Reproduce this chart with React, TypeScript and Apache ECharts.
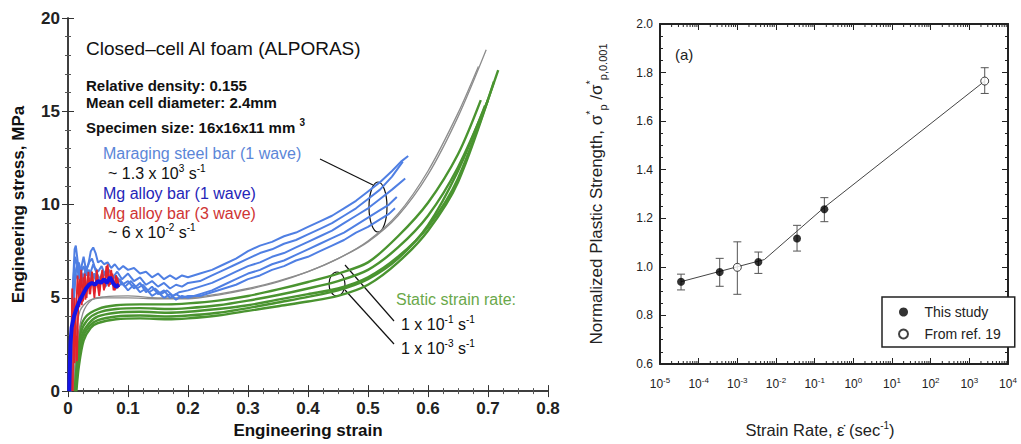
import React, { useEffect, useRef } from "react";
import * as echarts from "echarts";

type Pt = [number, number];

// ---------- Left chart: stress-strain curves (strain, MPa) ----------
const maraging1: Pt[] = [[0.002,0],[0.005,2.5],[0.008,5.5],[0.011,7.6],[0.013,7.8],[0.016,7.0],[0.019,6.2],[0.022,6.6],[0.026,7.2],[0.03,6.5],[0.034,6.8],[0.038,7.5],[0.042,7.7],[0.046,7.4],[0.05,6.9],[0.055,7.0],[0.06,6.8],[0.066,6.9],[0.072,6.6],[0.078,6.8],[0.085,6.5],[0.092,6.7],[0.1,6.5],[0.11,6.6],[0.12,6.3],[0.13,6.4],[0.14,6.1],[0.15,6.3],[0.16,6.0],[0.17,6.2],[0.18,6.0],[0.19,6.2],[0.2,6.1],[0.22,6.3],[0.24,6.5],[0.26,6.8],[0.28,7.1],[0.3,7.5],[0.32,7.8],[0.34,8.0],[0.36,8.3],[0.38,8.5],[0.4,8.8],[0.42,9.1],[0.44,9.4],[0.46,9.8],[0.48,10.2],[0.5,10.7],[0.52,11.2],[0.54,11.8],[0.555,12.3],[0.567,12.6]];
const maraging2: Pt[] = [[0.003,0],[0.006,3],[0.009,6],[0.012,7.2],[0.015,6.8],[0.018,6.0],[0.022,6.3],[0.026,5.8],[0.03,6.4],[0.035,6.9],[0.04,7.1],[0.045,6.6],[0.05,6.4],[0.056,6.7],[0.062,6.2],[0.068,6.5],[0.075,6.1],[0.082,6.4],[0.09,6.0],[0.1,6.3],[0.11,5.9],[0.12,6.1],[0.13,5.7],[0.14,5.9],[0.15,5.6],[0.16,5.8],[0.17,5.5],[0.18,5.7],[0.19,5.6],[0.2,5.8],[0.22,5.9],[0.24,6.2],[0.26,6.5],[0.28,6.8],[0.3,7.1],[0.32,7.4],[0.34,7.6],[0.36,7.9],[0.38,8.1],[0.4,8.4],[0.42,8.7],[0.44,9.0],[0.46,9.4],[0.48,9.8],[0.5,10.3],[0.52,10.8],[0.54,11.5],[0.558,12.3]];
const maraging3: Pt[] = [[0.004,0],[0.007,3.5],[0.01,5.8],[0.014,6.6],[0.018,6.9],[0.022,6.4],[0.026,6.7],[0.03,6.2],[0.035,6.5],[0.04,6.0],[0.045,6.3],[0.05,5.9],[0.056,6.2],[0.062,5.8],[0.07,6.1],[0.078,5.7],[0.086,6.0],[0.095,5.6],[0.105,5.9],[0.115,5.5],[0.125,5.7],[0.135,5.3],[0.145,5.5],[0.155,5.2],[0.165,5.4],[0.175,5.1],[0.185,5.3],[0.2,5.4],[0.22,5.6],[0.24,5.8],[0.26,6.1],[0.28,6.4],[0.3,6.7],[0.32,6.9],[0.34,7.2],[0.36,7.4],[0.38,7.7],[0.4,8.0],[0.42,8.3],[0.44,8.6],[0.46,9.0],[0.48,9.4],[0.5,9.8],[0.52,10.3],[0.54,10.8],[0.562,11.4]];
const maraging4: Pt[] = [[0.004,0],[0.008,4],[0.012,6.3],[0.016,6.0],[0.02,6.6],[0.025,6.1],[0.03,6.5],[0.036,5.9],[0.042,6.3],[0.048,5.8],[0.055,6.1],[0.062,5.6],[0.07,5.9],[0.08,5.5],[0.09,5.8],[0.1,5.4],[0.11,5.7],[0.12,5.3],[0.13,5.5],[0.14,5.1],[0.15,5.3],[0.16,5.0],[0.17,5.2],[0.18,4.9],[0.19,5.1],[0.2,5.0],[0.22,5.2],[0.24,5.4],[0.26,5.7],[0.28,6.0],[0.3,6.3],[0.32,6.5],[0.34,6.8],[0.36,7.0],[0.38,7.3],[0.4,7.6],[0.42,7.9],[0.44,8.2],[0.46,8.5],[0.48,8.9],[0.5,9.3],[0.52,9.7],[0.535,10.0],[0.548,10.4]];
const maraging5: Pt[] = [[0.005,0],[0.009,4.5],[0.013,6.4],[0.017,6.8],[0.021,6.2],[0.025,6.0],[0.03,6.6],[0.036,6.2],[0.042,6.8],[0.048,6.3],[0.055,5.9],[0.062,6.4],[0.07,5.8],[0.08,6.2],[0.09,5.7],[0.1,5.9],[0.11,5.5],[0.12,5.8],[0.13,5.3],[0.14,5.6],[0.15,5.2],[0.16,5.4],[0.17,5.0],[0.18,5.2],[0.19,5.0],[0.2,5.1],[0.22,5.1],[0.24,5.3],[0.26,5.5],[0.28,5.7],[0.3,6.0],[0.32,6.2],[0.34,6.5],[0.36,6.7],[0.38,7.0],[0.4,7.2],[0.42,7.5],[0.44,7.8],[0.46,8.1],[0.48,8.5],[0.5,8.8],[0.52,9.2],[0.535,9.5],[0.545,9.8]];
const mgThreeWave1: Pt[] = [[0.005,0],[0.006,3],[0.007,5.5],[0.009,3.5],[0.011,1.5],[0.013,4],[0.016,6.2],[0.019,4.5],[0.022,6.5],[0.025,4.8],[0.028,6.3],[0.031,5.0],[0.034,6.4],[0.037,5.2],[0.04,6.2],[0.044,5.0],[0.048,6.5],[0.052,5.3],[0.056,6.3],[0.06,5.4],[0.064,6.7],[0.068,5.6],[0.072,6.5],[0.076,5.4],[0.08,6.2],[0.083,5.5]];
const mgThreeWave2: Pt[] = [[0.008,0],[0.009,2.5],[0.011,5.0],[0.013,2.8],[0.015,1.6],[0.017,4.5],[0.02,6.0],[0.023,4.6],[0.026,6.1],[0.029,4.9],[0.033,6.2],[0.036,5.2],[0.04,6.4],[0.044,5.3],[0.048,6.0],[0.052,5.1],[0.057,6.5],[0.061,5.5],[0.066,6.8],[0.07,5.7],[0.074,6.3],[0.078,5.4],[0.082,6.1],[0.085,5.6]];
const mgOneWave: Pt[] = [[0.002,0],[0.004,2.5],[0.006,3.4],[0.01,4.0],[0.015,4.5],[0.02,4.9],[0.025,5.2],[0.03,5.5],[0.035,5.7],[0.04,5.8],[0.045,5.7],[0.05,5.9],[0.055,5.8],[0.06,6.0],[0.065,5.8],[0.07,6.1],[0.075,5.8],[0.08,5.6],[0.085,5.7]];
const staticFast1: Pt[] = [[0.008,0],[0.015,2.5],[0.025,4.2],[0.04,4.9],[0.06,5.05],[0.1,5.1],[0.15,5.0],[0.2,5.0],[0.25,5.2],[0.3,5.5],[0.35,5.9],[0.4,6.4],[0.45,7.1],[0.5,8.0],[0.55,9.4],[0.6,11.6],[0.65,14.7],[0.697,18.3]];
const staticFast2: Pt[] = [[0.006,0],[0.012,2.8],[0.02,4.3],[0.035,4.85],[0.06,5.0],[0.1,5.0],[0.15,4.95],[0.2,4.95],[0.25,5.15],[0.3,5.45],[0.35,5.85],[0.4,6.4],[0.45,7.1],[0.5,8.05],[0.55,9.5],[0.6,11.8],[0.65,14.9],[0.684,17.4]];
const staticSlow1: Pt[] = [[0.01,0],[0.014,1.8],[0.02,3.3],[0.03,4.0],[0.05,4.4],[0.08,4.6],[0.12,4.65],[0.165,4.65],[0.2,4.7],[0.25,4.85],[0.3,5.1],[0.35,5.45],[0.4,5.85],[0.45,6.3],[0.5,6.9],[0.55,8.3],[0.6,10.1],[0.65,12.7],[0.688,15.6]];
const staticSlow2: Pt[] = [[0.011,0],[0.015,1.6],[0.021,3.1],[0.032,3.8],[0.05,4.2],[0.08,4.4],[0.12,4.45],[0.165,4.4],[0.2,4.45],[0.25,4.6],[0.3,4.85],[0.35,5.15],[0.4,5.5],[0.45,5.9],[0.5,6.5],[0.55,7.7],[0.6,9.4],[0.65,12.0],[0.7,15.6]];
const staticSlow3: Pt[] = [[0.012,0],[0.016,1.5],[0.022,2.9],[0.034,3.6],[0.05,4.0],[0.08,4.2],[0.12,4.25],[0.165,4.2],[0.2,4.25],[0.25,4.4],[0.3,4.6],[0.35,4.9],[0.4,5.2],[0.45,5.5],[0.5,6.1],[0.55,7.2],[0.6,8.8],[0.65,11.4],[0.717,17.2]];
const staticSlow4: Pt[] = [[0.013,0],[0.017,1.4],[0.024,2.8],[0.036,3.5],[0.05,3.8],[0.08,4.0],[0.12,4.05],[0.165,4.0],[0.2,4.05],[0.25,4.2],[0.3,4.45],[0.35,4.75],[0.4,5.05],[0.45,5.4],[0.5,6.0],[0.55,7.1],[0.6,8.9],[0.65,11.8],[0.695,15.3]];
const staticSlow5: Pt[] = [[0.014,0],[0.018,1.3],[0.026,2.7],[0.038,3.4],[0.05,3.65],[0.08,3.85],[0.12,3.9],[0.165,3.85],[0.2,3.9],[0.25,4.05],[0.3,4.3],[0.35,4.55],[0.4,4.8],[0.45,5.1],[0.5,5.7],[0.55,6.9],[0.6,8.6],[0.65,11.2],[0.71,16.6]];

const strainTicks = { min: 0, max: 0.8, interval: 0.1 };
const stressTicks = { min: 0, max: 20, interval: 5 };

// ---------- Right chart: normalized strength vs strain rate ----------
const rateThisStudy = [3.5e-5, 3.5e-4, 3.5e-3, 3.5e-2, 0.178];
const strengthThisStudy = [0.939, 0.979, 1.02, 1.117, 1.237];
const errLowThisStudy = [0.905, 0.92, 0.973, 1.065, 1.186];
const errHighThisStudy = [0.97, 1.035, 1.061, 1.171, 1.285];
const rateRef = [1e-3, 2500];
const strengthRef = [0.998, 1.765];
const errLowRef = [0.887, 1.714];
const errHighRef = [1.103, 1.82];
const fitRate = [3.5e-5, 5e-3, 0.178, 2500];
const fitStrength = [0.939, 1.03, 1.245, 1.765];
const rateDecades = [-5, -4, -3, -2, -1, 0, 1, 2, 3, 4];
const minorMultipliers = [2, 3, 4, 5, 6, 7, 8, 9];

const FONT = "Liberation Sans, Arial, Helvetica, sans-serif";

export default function App() {
  const ref = useRef<HTMLDivElement>(null);
  useEffect(() => {
    if (!ref.current) return;
    const chart = echarts.init(ref.current, undefined, { renderer: "svg" });

    const lineSeries = (name: string, data: Pt[], color: string, width: number, smooth = false) => ({
      type: "line", name, data, xAxisIndex: 0, yAxisIndex: 0, showSymbol: false, symbol: "none",
      smooth: smooth ? 0.3 : false,
      lineStyle: { color, width }, z: 3, silent: true,
    });

    const minorTickData: number[] = [];
    rateDecades.slice(0, -1).forEach((d) => minorMultipliers.forEach((m) => minorTickData.push(m * Math.pow(10, d))));

    const errData = [
      ...rateThisStudy.map((r, i) => [r, errLowThisStudy[i], errHighThisStudy[i]]),
      ...rateRef.map((r, i) => [r, errLowRef[i], errHighRef[i]]),
    ];

    const supRich = {
      n: { fontSize: 16, fontFamily: FONT, lineHeight: 20, fill: "#111" },
      sup: { fontSize: 10, fontFamily: FONT, verticalAlign: "top", lineHeight: 20 },
    };

    const leftAxisCommon = {
      axisLine: { show: true, lineStyle: { color: "#333", width: 1.5 } },
      axisTick: { show: true, inside: true, length: 6, lineStyle: { color: "#333" } },
      minorTick: { show: true, length: 3, lineStyle: { color: "#555" } },
      splitLine: { show: false },
    };
    const rightAxisCommon = {
      axisLine: { show: true, lineStyle: { color: "#222", width: 2 } },
      axisTick: { show: true, inside: true, length: 6, lineStyle: { color: "#222" } },
      splitLine: { show: false },
    };

    const option: any = {
      animation: false,
      backgroundColor: "#fff",
      textStyle: { fontFamily: FONT },
      grid: [
        { left: 68, top: 18, right: 473, bottom: 52 },
        { left: 660, top: 24, right: 13, bottom: 80 },
      ],
      legend: {
        data: ["This study", "From ref. 19"],
        orient: "vertical",
        left: 882,
        top: 297,
        width: 121,
        padding: [8, 14, 6, 16],
        itemGap: 8,
        itemWidth: 18,
        itemHeight: 9,
        borderColor: "#222",
        borderWidth: 1.5,
        backgroundColor: "#fff",
        textStyle: { fontSize: 14, color: "#222", fontFamily: FONT, padding: [0, 0, 0, 7] },
      },
      xAxis: [
        {
          type: "value", gridIndex: 0, position: "bottom", ...strainTicks, ...leftAxisCommon,
          minorTick: { ...leftAxisCommon.minorTick, splitNumber: 4 },
          axisLabel: { fontSize: 17, fontWeight: "bold", color: "#222", margin: 9, formatter: (v: number) => (v === 0 ? "0" : v.toFixed(1)) },
          name: "Engineering strain", nameLocation: "middle", nameGap: 30,
          nameTextStyle: { fontSize: 17, fontWeight: "bold", color: "#111" },
        },
        {
          type: "value", gridIndex: 0, position: "top", ...strainTicks, ...leftAxisCommon,
          minorTick: { ...leftAxisCommon.minorTick, splitNumber: 4 },
          axisLabel: { show: false },
        },
        {
          type: "log", gridIndex: 1, position: "bottom", logBase: 10, min: 1e-5, max: 1e4, interval: 1, ...rightAxisCommon,
          axisLabel: {
            margin: 12, color: "#222",
            formatter: (v: number) => `{b|10}{s|${Math.round(Math.log10(v))}}`,
            rich: {
              b: { fontSize: 12, fontFamily: FONT, color: "#222", lineHeight: 16 },
              s: { fontSize: 8, fontFamily: FONT, color: "#222", verticalAlign: "top", lineHeight: 16 },
            },
          },
          name: "{n|Strain Rate, ε̇ (sec}{s|-1}{n|)}", nameLocation: "middle", nameGap: 56,
          nameTextStyle: {
            padding: [0, 28, 0, 0],
            rich: {
              n: { fontSize: 16.5, fontFamily: FONT, color: "#222", lineHeight: 20 },
              s: { fontSize: 10, fontFamily: FONT, color: "#222", verticalAlign: "top", lineHeight: 20 },
            },
          },
        },
        {
          type: "log", gridIndex: 1, position: "top", logBase: 10, min: 1e-5, max: 1e4, interval: 1, ...rightAxisCommon,
          axisLabel: { show: false },
        },
      ],
      yAxis: [
        {
          type: "value", gridIndex: 0, position: "left", ...stressTicks, ...leftAxisCommon,
          minorTick: { ...leftAxisCommon.minorTick, splitNumber: 5 },
          axisLabel: { fontSize: 17, fontWeight: "bold", color: "#222", margin: 8 },
          name: "Engineering stress, MPa", nameLocation: "middle", nameGap: 41,
          nameTextStyle: { fontSize: 17, fontWeight: "bold", color: "#111" },
        },
        {
          type: "value", gridIndex: 0, position: "right", ...stressTicks, ...leftAxisCommon,
          minorTick: { ...leftAxisCommon.minorTick, splitNumber: 5 },
          axisLabel: { show: false },
        },
        {
          type: "value", gridIndex: 1, position: "left", min: 0.6, max: 2.0, interval: 0.2, ...rightAxisCommon,
          minorTick: { show: true, splitNumber: 4, length: 3, lineStyle: { color: "#222" } },
          axisLabel: { fontSize: 12, color: "#222", margin: 7, formatter: (v: number) => v.toFixed(1) },
          name: "{n|Normalized Plastic Strength, σ}{s|*}{b|p}{n| /σ}{s|*}{b|p,0.001}",
          nameLocation: "middle", nameGap: 52,
          nameTextStyle: {
            rich: {
              n: { fontSize: 17, fontFamily: FONT, color: "#222", lineHeight: 24 },
              s: { fontSize: 11, fontFamily: FONT, color: "#222", verticalAlign: "top", lineHeight: 24 },
              b: { fontSize: 11, fontFamily: FONT, color: "#222", verticalAlign: "bottom", lineHeight: 24 },
            },
          },
        },
        {
          type: "value", gridIndex: 1, position: "right", min: 0.6, max: 2.0, interval: 0.2, ...rightAxisCommon,
          minorTick: { show: true, splitNumber: 4, length: 3, lineStyle: { color: "#222" } },
          axisLabel: { show: false },
        },
      ],
      series: [
        lineSeries("static5", staticSlow5, "#4a9430", 2.4, true),
        lineSeries("static4", staticSlow4, "#4a9430", 2.4, true),
        lineSeries("static3", staticSlow3, "#4a9430", 2.4, true),
        lineSeries("static2", staticSlow2, "#4a9430", 2.4, true),
        lineSeries("static1", staticSlow1, "#4a9430", 2.4, true),
        lineSeries("fast2", staticFast2, "#8c8c8c", 1.3, true),
        lineSeries("fast1", staticFast1, "#8c8c8c", 1.3, true),
        lineSeries("mar5", maraging5, "#4f7fe3", 2),
        lineSeries("mar4", maraging4, "#4f7fe3", 2),
        lineSeries("mar3", maraging3, "#4f7fe3", 2),
        lineSeries("mar2", maraging2, "#4f7fe3", 2),
        lineSeries("mar1", maraging1, "#4f7fe3", 2),
        lineSeries("mg3a", mgThreeWave1, "#e2232b", 1.8),
        lineSeries("mg3b", mgThreeWave2, "#e2232b", 1.8),
        lineSeries("mg1", mgOneWave, "#1414e6", 4),
        // right chart
        {
          type: "custom", name: "minorTicks", xAxisIndex: 2, yAxisIndex: 2, silent: true,
          data: minorTickData.map((v) => [v]),
          renderItem: (params: any, api: any) => {
            const b = api.coord([api.value(0), 0.6]);
            const t = api.coord([api.value(0), 2.0]);
            return {
              type: "group",
              children: [
                { type: "line", shape: { x1: b[0], y1: b[1], x2: b[0], y2: b[1] - 3 }, style: { stroke: "#222", lineWidth: 1 } },
                { type: "line", shape: { x1: t[0], y1: t[1], x2: t[0], y2: t[1] + 3 }, style: { stroke: "#222", lineWidth: 1 } },
              ],
            };
          },
        },
        {
          type: "line", name: "fit", xAxisIndex: 2, yAxisIndex: 2, symbol: "none", silent: true,
          data: fitRate.map((r, i) => [r, fitStrength[i]]),
          lineStyle: { color: "#444", width: 1 }, z: 2,
        },
        {
          type: "custom", name: "errors", xAxisIndex: 2, yAxisIndex: 2, silent: true, z: 3,
          data: errData,
          renderItem: (params: any, api: any) => {
            const lo = api.coord([api.value(0), api.value(1)]);
            const hi = api.coord([api.value(0), api.value(2)]);
            const st = { stroke: "#555", lineWidth: 1 };
            return {
              type: "group",
              children: [
                { type: "line", shape: { x1: lo[0], y1: lo[1], x2: hi[0], y2: hi[1] }, style: st },
                { type: "line", shape: { x1: lo[0] - 4, y1: lo[1], x2: lo[0] + 4, y2: lo[1] }, style: st },
                { type: "line", shape: { x1: hi[0] - 4, y1: hi[1], x2: hi[0] + 4, y2: hi[1] }, style: st },
              ],
            };
          },
        },
        {
          type: "scatter", name: "This study", xAxisIndex: 2, yAxisIndex: 2, symbol: "circle", symbolSize: 8, z: 5,
          data: rateThisStudy.map((r, i) => [r, strengthThisStudy[i]]),
          itemStyle: { color: "#000" },
        },
        {
          type: "scatter", name: "From ref. 19", xAxisIndex: 2, yAxisIndex: 2, symbol: "circle", symbolSize: 8, z: 5,
          data: rateRef.map((r, i) => [r, strengthRef[i]]),
          itemStyle: { color: "#fff", borderColor: "#111", borderWidth: 1 },
        },
      ],
      graphic: [
        { type: "text", x: 86, y: 48, style: { text: "Closed–cell Al foam (ALPORAS)", font: `19px ${FONT}`, fill: "#111", verticalAlign: "middle" } },
        { type: "text", x: 86, y: 85, style: { text: "Relative density: 0.155", font: `bold 15px ${FONT}`, fill: "#111", verticalAlign: "middle" } },
        { type: "text", x: 86, y: 102, style: { text: "Mean cell diameter: 2.4mm", font: `bold 15px ${FONT}`, fill: "#111", verticalAlign: "middle" } },
        { type: "text", x: 86, y: 127, style: { text: "{m|Specimen size: 16x16x11 mm }{s|3}", verticalAlign: "middle", rich: { m: { font: `bold 15px ${FONT}`, fill: "#111", lineHeight: 20 }, s: { font: `bold 10px ${FONT}`, fill: "#111", verticalAlign: "top", lineHeight: 20 } } } },
        { type: "text", x: 103, y: 153, style: { text: "Maraging steel bar (1 wave)", font: `16px ${FONT}`, fill: "#5b86d8", verticalAlign: "middle" } },
        { type: "text", x: 108, y: 173, style: { text: "{n|~ 1.3 x 10}{sup|3}{n| s}{sup|-1}", verticalAlign: "middle", rich: supRich } },
        { type: "text", x: 103, y: 193, style: { text: "Mg alloy bar (1 wave)", font: `16px ${FONT}`, fill: "#2525b8", verticalAlign: "middle" } },
        { type: "text", x: 103, y: 213, style: { text: "Mg alloy bar (3 wave)", font: `16px ${FONT}`, fill: "#cf3434", verticalAlign: "middle" } },
        { type: "text", x: 108, y: 232, style: { text: "{n|~ 6 x 10}{sup|-2}{n| s}{sup|-1}", verticalAlign: "middle", rich: supRich } },
        { type: "text", x: 396, y: 299, style: { text: "Static strain rate:", font: `16px ${FONT}`, fill: "#6aa84a", verticalAlign: "middle" } },
        { type: "text", x: 401, y: 324, style: { text: "{n|1 x 10}{sup|-1}{n| s}{sup|-1}", verticalAlign: "middle", rich: supRich } },
        { type: "text", x: 401, y: 348, style: { text: "{n|1 x 10}{sup|-3}{n| s}{sup|-1}", verticalAlign: "middle", rich: supRich } },
        { type: "line", shape: { x1: 320, y1: 159, x2: 373, y2: 185 }, style: { stroke: "#111", lineWidth: 1.2 } },
        { type: "ellipse", shape: { cx: 378, cy: 207, rx: 9, ry: 25 }, style: { fill: "none", stroke: "#111", lineWidth: 1.2 } },
        { type: "line", shape: { x1: 394, y1: 321, x2: 345, y2: 265 }, style: { stroke: "#111", lineWidth: 1.2 } },
        { type: "line", shape: { x1: 394, y1: 344, x2: 345, y2: 290 }, style: { stroke: "#111", lineWidth: 1.2 } },
        { type: "ellipse", shape: { cx: 337, cy: 284, rx: 8, ry: 12 }, style: { fill: "none", stroke: "#111", lineWidth: 1.2 } },
        { type: "text", x: 675, y: 54, style: { text: "(a)", font: `15px ${FONT}`, fill: "#222", verticalAlign: "middle" } },
      ],
    };
    chart.setOption(option);
    return () => chart.dispose();
  }, []);

  return <div ref={ref} style={{ position: "fixed", left: 0, top: 0, width: 1021, height: 444, background: "#fff" }} />;
}
